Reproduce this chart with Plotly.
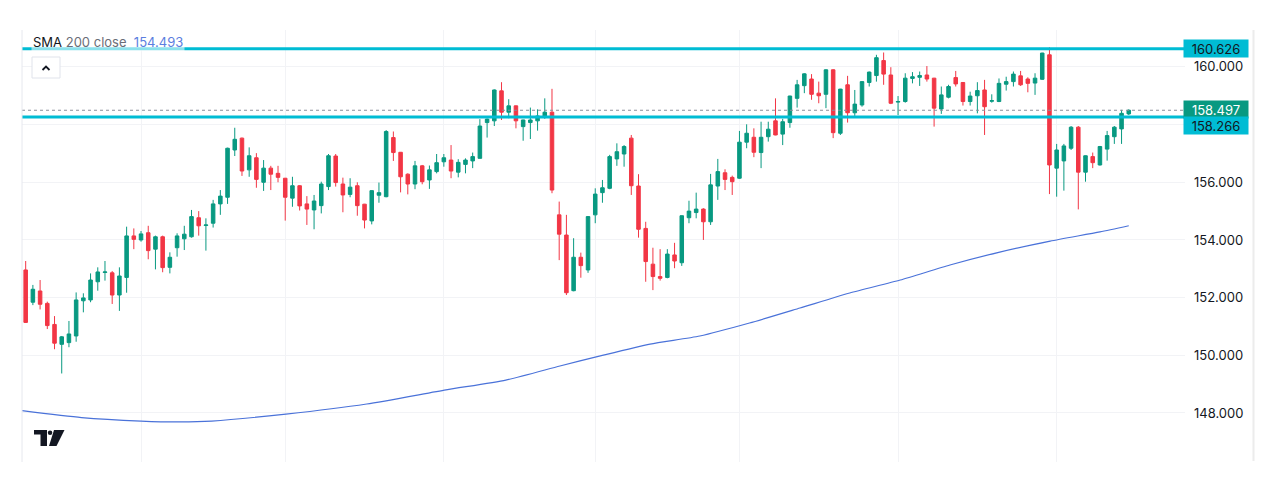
import plotly.graph_objects as go

# ---------------- data ----------------
opens = [152.96,151.84,152.23,151.80,151.07,150.38,150.44,150.67,151.89,151.92,
         152.55,152.87,152.86,152.09,152.70,154.14,154.00,154.25,153.68,154.11,
         153.05,153.73,154.04,154.11,154.77,154.50,154.58,155.25,155.48,157.12,
         157.53,156.43,156.85,156.00,156.49,156.31,156.14,155.45,155.88,155.25,
         155.04,155.19,155.85,156.91,155.94,155.58,155.88,155.24,154.66,155.55,
         155.50,157.55,157.04,156.28,155.94,156.57,156.08,156.37,156.71,156.77,
         156.35,156.62,156.74,156.83,158.07,158.13,159.17,158.43,158.65,157.93,
         158.07,158.13,158.28,158.43,154.87,154.17,152.24,153.40,152.96,154.87,
         155.64,155.79,156.81,156.98,157.53,155.87,154.40,153.16,152.73,152.70,
         153.48,153.21,154.77,154.95,155.07,154.63,155.87,156.33,156.17,156.14,
         157.39,157.56,157.03,157.58,158.13,157.67,158.07,158.91,159.35,159.58,
         159.09,159.05,159.90,157.70,159.38,158.41,158.68,159.46,159.70,160.22,
         159.72,158.78,158.80,159.60,159.64,159.72,159.61,158.54,158.95,159.63,
         159.46,158.80,159.00,159.20,158.81,158.80,159.40,159.49,159.69,159.58,
         159.44,159.57,160.42,156.49,156.74,157.18,157.91,156.35,156.89,156.60,
         157.15,157.58,157.85,158.37]
highs = [153.27,152.44,152.61,151.86,151.36,150.67,151.19,152.18,152.15,152.84,
         153.05,153.27,152.92,153.05,154.46,154.40,154.31,154.49,154.15,154.15,
         153.57,154.23,154.49,155.04,155.00,154.75,155.39,155.73,157.20,157.89,
         157.55,157.21,157.01,156.77,156.57,156.57,156.15,156.19,155.90,155.52,
         155.56,156.02,156.98,156.98,156.16,156.14,156.00,155.25,155.72,155.99,
         157.81,157.76,157.05,156.31,156.74,156.60,156.58,156.98,156.98,157.29,
         156.80,156.83,157.03,158.19,158.21,159.22,159.47,158.88,158.66,158.17,
         158.59,158.53,158.91,159.24,155.33,154.87,154.06,153.56,154.83,155.79,
         156.08,156.95,157.35,157.29,157.64,156.28,154.63,153.73,153.68,153.68,
         153.90,154.85,155.36,155.64,155.10,156.29,156.81,156.45,156.23,157.78,
         158.01,157.87,158.10,158.10,158.91,158.20,159.00,159.55,159.78,159.75,
         159.49,159.92,159.92,159.24,159.69,159.20,159.50,159.84,160.42,160.50,
         159.99,158.99,159.78,159.82,159.84,160.03,159.62,159.32,159.38,159.86,
         159.47,159.14,159.47,159.55,159.05,159.60,159.66,159.84,159.86,159.64,
         159.78,160.49,160.68,157.33,157.33,157.95,157.95,156.93,157.03,157.26,
         157.78,157.95,158.51,158.53]
lows = [151.12,151.74,151.59,150.91,150.21,149.37,150.28,150.47,151.49,151.84,
        152.24,152.59,151.78,151.54,152.17,153.68,153.94,153.33,152.98,152.88,
        152.84,153.42,153.65,154.08,154.15,153.63,154.43,154.87,155.25,156.91,
        156.22,156.19,155.81,155.70,155.73,156.00,154.67,155.15,155.02,154.52,
        154.37,154.92,155.73,155.85,154.96,155.48,154.84,154.40,154.54,155.29,
        155.48,156.74,155.65,155.58,155.76,155.93,155.77,156.31,156.54,156.14,
        156.17,156.31,156.49,156.83,157.55,157.95,158.16,158.22,157.87,157.44,
        157.50,157.79,158.20,155.62,153.30,152.09,152.22,152.69,152.86,154.58,
        155.29,155.76,156.57,156.54,155.56,154.08,152.55,152.26,152.59,152.67,
        153.02,153.10,154.58,154.75,154.00,154.52,155.39,155.73,155.56,156.12,
        157.18,156.87,156.49,157.41,157.63,157.29,157.89,158.59,159.09,158.86,
        158.74,158.57,157.53,157.64,158.07,158.30,158.62,159.32,159.49,159.38,
        158.71,158.33,158.76,159.43,159.34,159.49,157.93,158.37,158.91,159.32,
        158.66,158.66,158.39,157.64,158.76,158.78,159.18,159.32,159.34,159.12,
        159.03,159.55,155.59,155.50,155.71,157.12,155.06,156.02,156.49,156.58,
        156.75,157.33,157.33,158.33]
closes = [151.14,152.29,151.77,151.03,150.42,150.64,150.74,151.92,151.99,152.61,
          152.89,152.89,152.09,152.75,154.14,154.02,154.21,153.63,154.11,153.04,
          153.40,154.14,154.20,154.81,154.49,154.52,155.25,155.52,157.18,157.49,
          156.39,156.92,156.10,156.49,156.28,156.17,155.48,155.88,155.18,155.07,
          155.35,155.94,156.92,155.99,155.56,155.83,155.19,154.69,155.71,155.64,
          157.76,157.03,156.19,155.94,156.57,156.02,156.43,156.68,156.85,156.39,
          156.69,156.77,156.89,157.95,158.19,159.20,158.43,158.65,158.13,158.16,
          158.16,158.30,158.43,155.73,154.20,152.17,153.40,153.11,154.81,155.59,
          155.81,156.89,157.06,157.24,155.88,154.37,153.25,152.73,152.67,153.51,
          153.27,154.84,155.00,155.07,154.63,155.91,156.37,156.10,156.02,157.39,
          157.70,157.04,157.56,157.84,157.64,158.10,158.99,159.38,159.76,159.05,
          159.00,159.90,157.72,159.23,158.41,158.71,159.49,159.82,160.32,159.75,
          158.74,158.80,159.61,159.66,159.70,159.58,158.57,159.03,159.32,159.41,
          158.80,158.99,159.18,158.62,158.83,159.43,159.49,159.75,159.38,159.43,
          159.61,160.48,156.60,157.12,157.26,157.91,156.35,156.92,156.68,157.24,
          157.62,157.91,158.39,158.497]
bar_index = list(range(len(closes)))

# SMA 200 (close) read at sample points along the line
sma_index = [-0.5, 7.75, 16, 21.4, 25.8, 36.1, 47.3, 58.3, 66.6, 74.1, 79.7, 86.6,
             93.5, 100.4, 107.4, 114.3, 121.3, 128.2, 135.1, 142.1, 149, 153]
sma_values = [148.08, 147.84, 147.72, 147.69, 147.72, 147.96, 148.31, 148.80, 149.14,
              149.63, 149.98, 150.39, 150.67, 151.12, 151.64, 152.16, 152.61, 153.13,
              153.58, 153.96, 154.28, 154.493]

level_high = 160.626
level_low = 158.266
last_price = 158.497
sma_last = 154.493

price_ticks = [148, 150, 152, 154, 156, 158, 160]
price_tick_text = ["148.000", "150.000", "152.000", "154.000", "156.000", "", "160.000"]
time_grid = [16, 36, 58, 79, 99, 121, 143]

# ---------------- layout helpers ----------------
W, H = 1274, 500
ML, MR, MT, MB = 22, 89, 30, 38
PW, PH = W - ML - MR, H - MT - MB


def px(xp):
    return (xp - ML) / PW


def py(yp):
    return (H - MB - yp) / PH


UP, DOWN = "#089981", "#f23645"
CYAN = "#00bcd4"

fig = go.Figure()

fig.add_trace(go.Scatter(
    x=sma_index, y=sma_values, mode="lines",
    line=dict(color="#4a72d9", width=1.2, shape="spline", smoothing=0.6),
    hoverinfo="skip", showlegend=False))

fig.add_trace(go.Candlestick(
    x=bar_index, open=opens, high=highs, low=lows, close=closes,
    increasing=dict(line=dict(color=UP, width=1), fillcolor=UP),
    decreasing=dict(line=dict(color=DOWN, width=1), fillcolor=DOWN),
    whiskerwidth=0, showlegend=False, hoverinfo="skip"))

shapes = []
# horizontal levels
for lvl in (level_high, level_low):
    shapes.append(dict(type="line", xref="paper", yref="y", x0=0, x1=px(1184),
                       y0=lvl, y1=lvl, line=dict(color=CYAN, width=3)))
# last price dotted line
shapes.append(dict(type="line", xref="paper", yref="y", x0=0, x1=px(1184),
                   y0=last_price, y1=last_price,
                   line=dict(color="#8a8f99", width=1, dash="dot")))
# borders
shapes.append(dict(type="line", xref="paper", yref="paper", x0=0, x1=0, y0=0, y1=1,
                   line=dict(color="#e6e8ee", width=1)))
shapes.append(dict(type="line", xref="paper", yref="paper", x0=px(1253.5), x1=px(1253.5),
                   y0=py(461), y1=1, line=dict(color="#ececec", width=2)))
# collapse button with chevron
shapes.append(dict(type="rect", xref="paper", yref="paper", x0=px(32), x1=px(60),
                   y0=py(78), y1=py(57), line=dict(color="#e0e3eb", width=1),
                   fillcolor="white"))
shapes.append(dict(type="path", xref="paper", yref="paper",
                   path=f"M {px(42.5)} {py(70)} L {px(46)} {py(66.5)} L {px(49.5)} {py(70)}",
                   line=dict(color="#131722", width=1.8)))
# TradingView logo
shapes.append(dict(type="rect", xref="paper", yref="paper", x0=px(34), x1=px(47),
                   y0=py(434.5), y1=py(430), line=dict(width=0), fillcolor="#131722"))
shapes.append(dict(type="rect", xref="paper", yref="paper", x0=px(40.5), x1=px(47),
                   y0=py(446), y1=py(430), line=dict(width=0), fillcolor="#131722"))
shapes.append(dict(type="circle", xref="paper", yref="paper", x0=px(47.8), x1=px(52.3),
                   y0=py(435), y1=py(430.5), line=dict(width=0), fillcolor="#131722"))
shapes.append(dict(type="path", xref="paper", yref="paper",
                   path=f"M {px(54)} {py(430)} L {px(64.5)} {py(430)} L {px(56.5)} {py(446)} "
                        f"L {px(49)} {py(446)} Z",
                   line=dict(width=0), fillcolor="#131722"))

annotations = []
annotations.append(dict(
    xref="paper", yref="paper", x=px(31), y=py(42), xanchor="left", yanchor="middle",
    text=("<span style='color:#131722'>SMA</span> "
          "<span style='color:#6a6d78'>200 close</span>  "
          f"<span style='color:#5b7ee0'>{sma_last:.3f}</span>"),
    showarrow=False, font=dict(family="Inter", size=13),
    bgcolor="rgba(255,255,255,0.55)", borderpad=1))

# price-scale labels: 158.266 is pushed below the last-price label, as in the reference
for val, bg, fg, shift in ((level_high, CYAN, "#131722", 0), (last_price, UP, "white", 1),
                           (level_low, CYAN, "#131722", -9)):
    annotations.append(dict(
        xref="paper", yref="y", x=px(1183), y=val, xanchor="left", yanchor="middle",
        yshift=shift, text=f"{val:.3f}", showarrow=False, bgcolor=bg, width=62, height=15,
        borderpad=1, align="center", font=dict(family="Inter", size=13, color=fg)))

fig.update_layout(
    width=W, height=H,
    margin=dict(l=ML, r=MR, t=MT, b=MB),
    paper_bgcolor="white", plot_bgcolor="white",
    shapes=shapes, annotations=annotations,
    showlegend=False,
    xaxis=dict(range=[-0.51, 160.8], rangeslider=dict(visible=False),
               tickvals=time_grid, showticklabels=False, showgrid=True,
               gridcolor="#f2f3f6", gridwidth=1, zeroline=False, showline=False,
               fixedrange=True),
    yaxis=dict(side="right", range=[146.30, 161.28], tickvals=price_ticks,
               ticktext=price_tick_text, showgrid=True, gridcolor="#f2f3f6",
               zeroline=False, showline=False, ticks="", ticklabelstandoff=8,
               tickfont=dict(family="Inter", size=13, color="#131722"),
               fixedrange=True),
)

fig.write_html("out.html")
